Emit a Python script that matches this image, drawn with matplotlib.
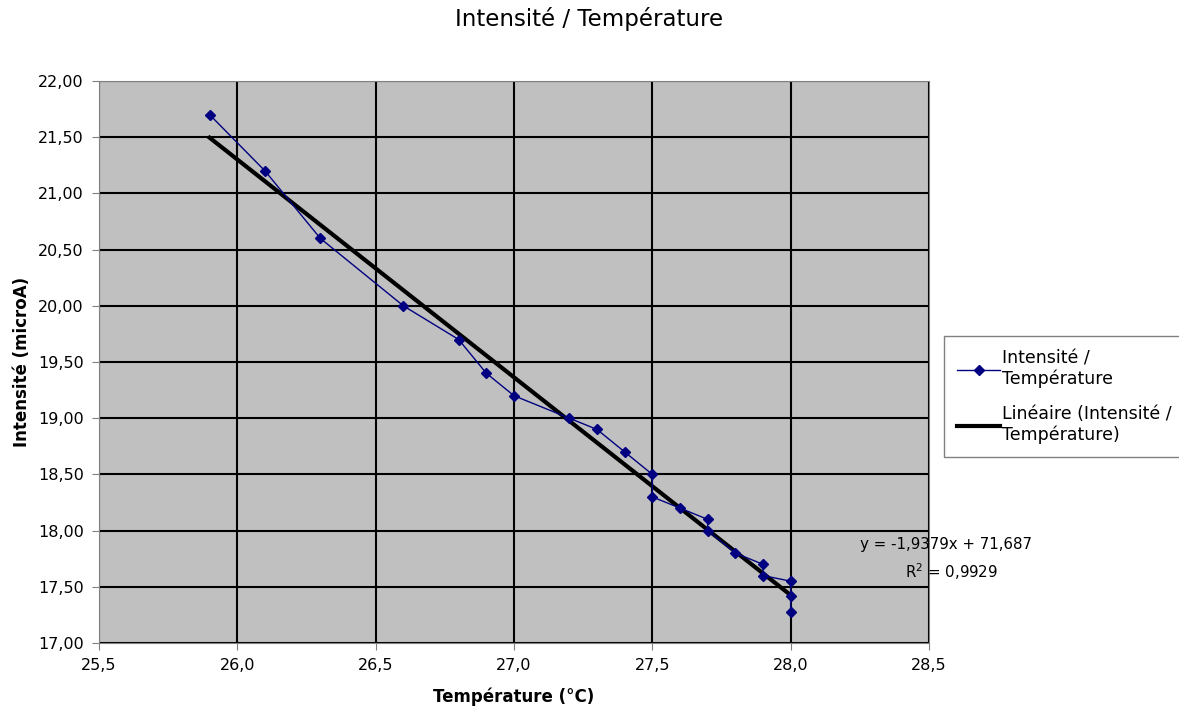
import numpy as np
import matplotlib.pyplot as plt
from matplotlib.ticker import FuncFormatter, MultipleLocator

temperature = [25.9, 26.1, 26.3, 26.6, 26.8, 26.9, 27.0, 27.2, 27.3, 27.4, 27.5,
               27.5, 27.6, 27.7, 27.7, 27.8, 27.9, 27.9, 28.0, 28.0, 28.0]
intensite = [21.70, 21.20, 20.60, 20.00, 19.70, 19.40, 19.20, 19.00, 18.90, 18.70, 18.50,
             18.30, 18.20, 18.10, 18.00, 17.80, 17.70, 17.60, 17.55, 17.42, 17.28]

# Courbe de tendance linéaire (équation affichée)
pente = -1.9379
ordonnee = 71.687
r2 = 0.9929

plt.rcParams['font.family'] = ['DejaVu Sans']

fig = plt.figure(figsize=(11.79, 7.07), dpi=100)
ax = fig.add_axes([99/1179, 1-643/707, (929-99)/1179, (643-81)/707])
ax.set_facecolor('#c0c0c0')

xt = np.array([min(temperature), max(temperature)])
ax.plot(temperature, intensite, color='#000080', linewidth=1, marker='D', markersize=5,
        label='Intensité /\nTempérature', zorder=4)
ax.plot(xt, pente*xt + ordonnee, color='black', linewidth=3,
        label='Linéaire (Intensité /\nTempérature)', zorder=3)

ax.set_xlim(25.5, 28.5)
ax.set_ylim(17.0, 22.0)
ax.xaxis.set_major_locator(MultipleLocator(0.5))
ax.yaxis.set_major_locator(MultipleLocator(0.5))
ax.xaxis.set_major_formatter(FuncFormatter(lambda v, p: f"{v:.1f}".replace('.', ',')))
ax.yaxis.set_major_formatter(FuncFormatter(lambda v, p: f"{v:.2f}".replace('.', ',')))
ax.grid(True, color='black', linewidth=1.5, zorder=1)
ax.set_axisbelow(True)
for s in ax.spines.values():
    s.set_color('#808080')
ax.tick_params(direction='out', length=5, color='#808080', labelsize=11.5, pad=6)

ax.set_xlabel('Température (°C)', fontsize=12, fontweight='bold', labelpad=10)
ax.set_ylabel('Intensité (microA)', fontsize=12, fontweight='bold', labelpad=5)
fig.suptitle('Intensité / Température', fontsize=16.5, y=1-19/707, va='center')

fig.text(860/1179, 1-545/707, 'y = ' + f"{pente:.4f}x + {ordonnee:.3f}".replace('.', ','),
         fontsize=10.8, va='center', ha='left')
fig.text(905/1179, 1-572/707, 'R$^2$ = ' + f"{r2:.4f}".replace('.', ','),
         fontsize=10.8, va='center', ha='left')

leg = fig.legend(loc='upper left', bbox_to_anchor=(944/1179, 1-336/707), fontsize=12.5,
                 fancybox=False, edgecolor='#808080', framealpha=1, handlelength=2.5,
                 handletextpad=0.1, labelspacing=0.95, borderpad=0.75, borderaxespad=0)
leg.get_frame().set_linewidth(1)

fig.savefig('out.png', dpi=100)
